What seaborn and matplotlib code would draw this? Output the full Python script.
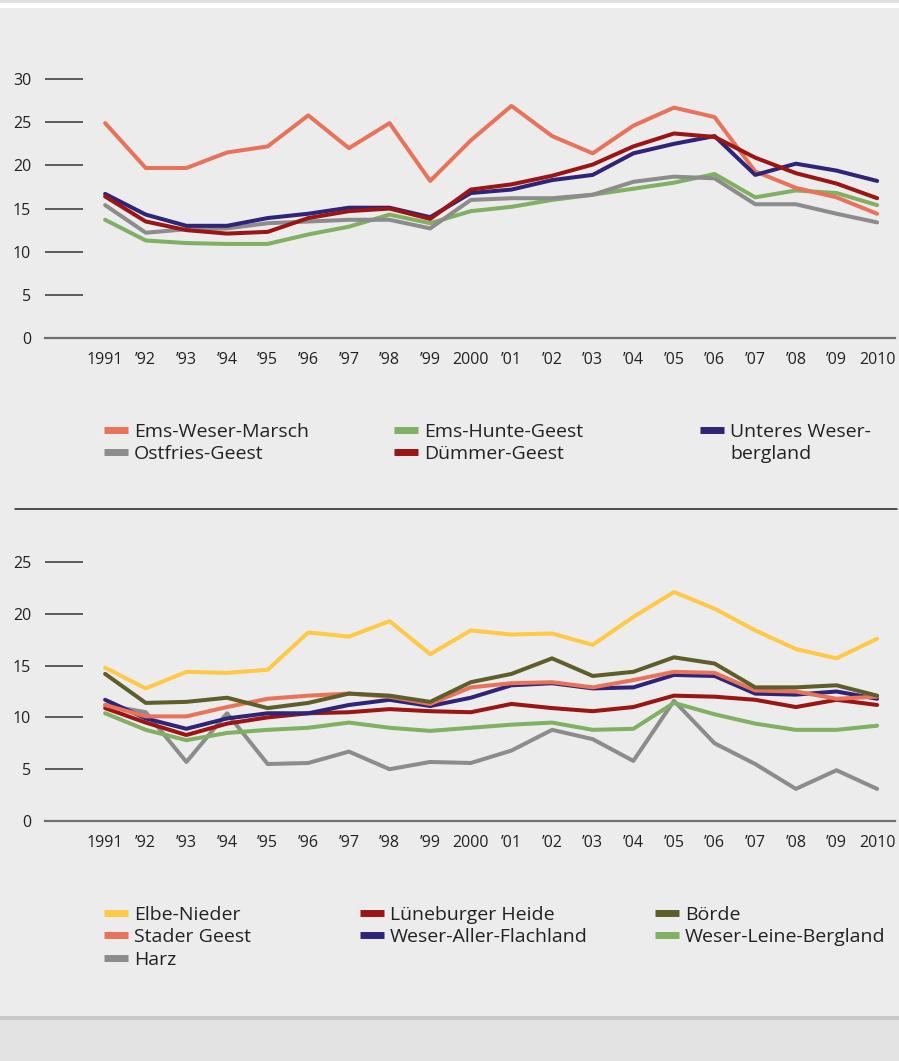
"""
Arbeitslosenquote nach Regionen 1991-2010 (two panels, Excel-style line charts).
"""

import matplotlib.pyplot as plt
import pandas as pd
import seaborn as sns
from matplotlib.lines import Line2D
from matplotlib.patches import Rectangle

sns.set_style("white")
plt.rcParams["font.family"] = ["Open Sans", "DejaVu Sans"]

years = list(range(1991, 2011))
year_labels = ["1991", "’92", "’93", "’94", "’95", "’96", "’97", "’98", "’99", "2000",
               "’01", "’02", "’03", "’04", "’05", "’06", "’07", "’08", "’09", "2010"]

# --- top panel ---
ems_weser_marsch = [24.9, 19.7, 19.7, 21.5, 22.2, 25.8, 22.0, 24.9, 18.2, 22.9,
                    26.9, 23.4, 21.4, 24.6, 26.7, 25.6, 19.3, 17.4, 16.3, 14.4]
ems_hunte_geest = [13.7, 11.3, 11.0, 10.9, 10.9, 12.0, 12.9, 14.3, 13.3, 14.7,
                   15.2, 16.0, 16.6, 17.3, 18.0, 19.0, 16.3, 17.1, 16.8, 15.4]
unteres_weserbergland = [16.7, 14.3, 13.0, 13.0, 13.9, 14.4, 15.1, 15.1, 14.0, 16.8,
                         17.2, 18.3, 18.9, 21.4, 22.5, 23.4, 18.9, 20.2, 19.4, 18.2]
ostfries_geest = [15.4, 12.2, 12.6, 12.7, 13.3, 13.5, 13.7, 13.7, 12.7, 16.0,
                  16.2, 16.2, 16.6, 18.1, 18.7, 18.5, 15.5, 15.5, 14.4, 13.4]
duemmer_geest = [16.4, 13.5, 12.5, 12.1, 12.3, 13.9, 14.7, 15.0, 13.8, 17.2,
                 17.8, 18.8, 20.1, 22.2, 23.7, 23.3, 20.9, 19.1, 17.9, 16.2]

# --- bottom panel ---
elbe_nieder = [14.8, 12.8, 14.4, 14.3, 14.6, 18.2, 17.8, 19.3, 16.1, 18.4,
               18.0, 18.1, 17.0, 19.7, 22.1, 20.5, 18.4, 16.6, 15.7, 17.6]
lueneburger_heide = [10.9, 9.5, 8.3, 9.4, 10.0, 10.4, 10.5, 10.8, 10.6, 10.5,
                     11.3, 10.9, 10.6, 11.0, 12.1, 12.0, 11.7, 11.0, 11.7, 11.2]
boerde = [14.2, 11.4, 11.5, 11.9, 10.9, 11.4, 12.3, 12.1, 11.5, 13.4,
          14.2, 15.7, 14.0, 14.4, 15.8, 15.2, 12.9, 12.9, 13.1, 12.1]
stader_geest = [11.2, 10.1, 10.1, 11.0, 11.8, 12.1, 12.3, 12.0, 11.3, 12.9,
                13.3, 13.4, 12.9, 13.6, 14.4, 14.3, 12.6, 12.5, 11.8, 12.0]
weser_aller_flachland = [11.7, 9.9, 8.9, 9.9, 10.4, 10.4, 11.2, 11.7, 11.1, 11.9,
                         13.1, 13.3, 12.8, 12.9, 14.1, 14.0, 12.3, 12.2, 12.5, 11.8]
weser_leine_bergland = [10.4, 8.8, 7.8, 8.5, 8.8, 9.0, 9.5, 9.0, 8.7, 9.0,
                        9.3, 9.5, 8.8, 8.9, 11.4, 10.3, 9.4, 8.8, 8.8, 9.2]
harz = [11.2, 10.5, 5.7, 10.4, 5.5, 5.6, 6.7, 5.0, 5.7, 5.6,
        6.8, 8.8, 7.9, 5.8, 11.6, 7.5, 5.5, 3.1, 4.9, 3.1]

top_series = {
    "Ems-Weser-Marsch": ems_weser_marsch,
    "Ems-Hunte-Geest": ems_hunte_geest,
    "Unteres Weser-\nbergland": unteres_weserbergland,
    "Ostfries-Geest": ostfries_geest,
    "Dümmer-Geest": duemmer_geest,
}
bottom_series = {
    "Elbe-Nieder": elbe_nieder,
    "Lüneburger Heide": lueneburger_heide,
    "Börde": boerde,
    "Stader Geest": stader_geest,
    "Weser-Aller-Flachland": weser_aller_flachland,
    "Weser-Leine-Bergland": weser_leine_bergland,
    "Harz": harz,
}

ORANGE, GREEN, NAVY, DARKRED, GREY = "#e8735a", "#80b062", "#2e2479", "#9b1515", "#8c8c8c"
YELLOW, OLIVE = "#ffc845", "#5e5e2a"

top_colors = {
    "Ems-Weser-Marsch": ORANGE, "Ems-Hunte-Geest": GREEN,
    "Unteres Weser-\nbergland": NAVY, "Ostfries-Geest": GREY, "Dümmer-Geest": DARKRED,
}
bottom_colors = {
    "Elbe-Nieder": YELLOW, "Lüneburger Heide": DARKRED, "Börde": OLIVE,
    "Stader Geest": ORANGE, "Weser-Aller-Flachland": NAVY,
    "Weser-Leine-Bergland": GREEN, "Harz": GREY,
}
# drawing order (back to front) and legend columns
top_order = ["Ems-Hunte-Geest", "Ostfries-Geest", "Ems-Weser-Marsch",
             "Unteres Weser-\nbergland", "Dümmer-Geest"]
bottom_order = ["Harz", "Weser-Leine-Bergland", "Lüneburger Heide", "Weser-Aller-Flachland",
                "Stader Geest", "Börde", "Elbe-Nieder"]
top_legend_cols = [["Ems-Weser-Marsch", "Ostfries-Geest"],
                   ["Ems-Hunte-Geest", "Dümmer-Geest"],
                   ["Unteres Weser-\nbergland"]]
bottom_legend_cols = [["Elbe-Nieder", "Stader Geest", "Harz"],
                      ["Lüneburger Heide", "Weser-Aller-Flachland"],
                      ["Börde", "Weser-Leine-Bergland"]]

BG = "#ececec"
W, H = 899, 1061


def to_long(series):
    return pd.DataFrame([
        {"Jahr": y, "Region": name, "Wert": v}
        for name, vals in series.items() for y, v in zip(years, vals)
    ])


def style_axis(ax, yticks, ymax):
    ax.set_facecolor(BG)
    ax.set_xlim(years[0] - 1.48, years[-1] + 0.44)
    ax.set_ylim(0, ymax)
    ax.set_xticks(years)
    ax.set_xticklabels(year_labels)
    ax.set_yticks(yticks)
    for side in ["top", "right", "left"]:
        ax.spines[side].set_visible(False)
    ax.spines["bottom"].set_color("#707070")
    ax.spines["bottom"].set_linewidth(1.6)
    ax.tick_params(axis="x", length=0, pad=10, labelsize=11.5, labelcolor="#222222")
    ax.tick_params(axis="y", direction="in", length=27, width=1.1, color="#333333",
                   pad=10, labelsize=11.5, labelcolor="#222222", left=True)
    ax.set_xlabel("")
    ax.set_ylabel("")
    ax.grid(False)


def add_legends(fig, cols, colors, xs, ytop):
    for col, x in zip(cols, xs):
        handles, labels = [], []
        for name in col:
            # wrapped names: handle next to the first line only
            for i, line in enumerate(name.split("\n")):
                handles.append(Line2D([0], [0], color=colors[name] if i == 0 else "none",
                                      lw=5, solid_capstyle="butt"))
                labels.append(line)
        leg = fig.legend(handles, labels, loc="upper left",
                         bbox_to_anchor=(x / W, 1 - ytop / H),
                         frameon=False, fontsize=14, handlelength=1.25,
                         handletextpad=0.3, labelspacing=0.22,
                         borderpad=0, borderaxespad=0)
        for t in leg.get_texts():
            t.set_color("#222222")


fig = plt.figure(figsize=(W / 100, H / 100), dpi=100, facecolor=BG)

# decorative bands at top and bottom
fig.add_artist(Rectangle((0, 1 - 3 / H), 1, 3 / H, transform=fig.transFigure,
                         color="#e0e0e0", lw=0))
fig.add_artist(Rectangle((0, 1 - 8 / H), 1, 5 / H, transform=fig.transFigure,
                         color="white", lw=0))
fig.add_artist(Rectangle((0, 0), 1, (H - 1016) / H, transform=fig.transFigure,
                         color="#e3e3e3", lw=0))
fig.add_artist(Rectangle((0, (H - 1020) / H), 1, 4 / H, transform=fig.transFigure,
                         color="#c9c9c9", lw=0))
fig.add_artist(Line2D([15 / W, 897 / W], [1 - 509 / H, 1 - 509 / H],
                      transform=fig.transFigure, color="#222222", lw=1.1))

# top panel: y=0 at 338 px, 30 at 79 px
ax1 = fig.add_axes([45 / W, (H - 338) / H, 850 / W, (338 - 44) / H])
sns.lineplot(data=to_long(top_series), x="Jahr", y="Wert", hue="Region",
             hue_order=top_order, palette=top_colors, linewidth=2.9,
             legend=False, ax=ax1)
style_axis(ax1, [0, 5, 10, 15, 20, 25, 30], 34.07)

# bottom panel: y=0 at 821 px, 25 at 562 px
ax2 = fig.add_axes([45 / W, (H - 821) / H, 850 / W, (821 - 541) / H])
sns.lineplot(data=to_long(bottom_series), x="Jahr", y="Wert", hue="Region",
             hue_order=bottom_order, palette=bottom_colors, linewidth=2.9,
             legend=False, ax=ax2)
style_axis(ax2, [0, 5, 10, 15, 20, 25], 27.03)

add_legends(fig, top_legend_cols, top_colors, [104, 394, 700], 423)
add_legends(fig, bottom_legend_cols, bottom_colors, [104, 360, 655], 906)

fig.savefig("out.png", dpi=100, facecolor=BG)
